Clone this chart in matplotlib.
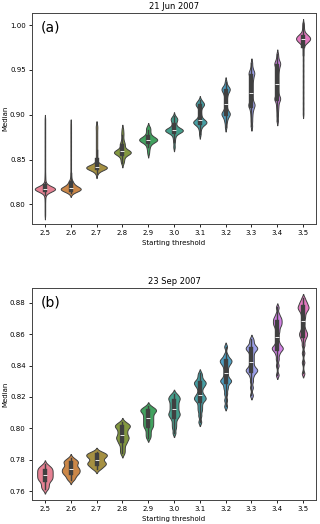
import numpy as np
import pandas as pd
import matplotlib
matplotlib.use("Agg")
import matplotlib.pyplot as plt
import seaborn as sns

thresholds = ["2.5", "2.6", "2.7", "2.8", "2.9", "3.0", "3.1", "3.2", "3.3", "3.4", "3.5"]

# (a) 21 Jun 2007 - median values per starting threshold (value, how many runs gave it)
jun_25 = np.repeat([0.788, 0.793, 0.798, 0.803, 0.807, 0.810, 0.812, 0.813, 0.814, 0.815, 0.816, 0.817, 0.818,
                    0.819, 0.820, 0.821, 0.822, 0.823, 0.825, 0.828, 0.831, 0.835, 0.840, 0.845, 0.850, 0.855,
                    0.860, 0.865, 0.870, 0.875, 0.880, 0.885, 0.890, 0.895],
                   [1, 1, 1, 1, 1, 1, 1, 2, 3, 5, 9, 14, 9,
                    6, 4, 2, 1, 1, 1, 1, 1, 1, 1, 1, 1, 1,
                    1, 1, 1, 1, 1, 1, 1, 1])
jun_26 = np.repeat([0.813, 0.814, 0.815, 0.816, 0.817, 0.818, 0.819, 0.820, 0.821, 0.822, 0.823, 0.824, 0.825,
                    0.826, 0.828, 0.831, 0.835, 0.840, 0.845, 0.850, 0.855, 0.860, 0.865, 0.870, 0.875, 0.880,
                    0.885, 0.890],
                   [2, 3, 5, 8, 12, 8, 5, 3, 2, 2, 2, 2, 2,
                    1, 1, 1, 1, 1, 1, 1, 1, 1, 1, 1, 1, 1,
                    1, 1])
jun_27 = np.repeat([0.834, 0.836, 0.838, 0.839, 0.840, 0.841, 0.842, 0.843, 0.844, 0.846, 0.849, 0.853, 0.857,
                    0.861, 0.865, 0.869, 0.873, 0.877, 0.881, 0.885, 0.888],
                   [1, 1, 2, 3, 5, 7, 5, 3, 2, 1, 1, 1, 1,
                    1, 1, 1, 1, 1, 1, 1, 1])
jun_28 = [0.846, 0.848, 0.850, 0.852, 0.854, 0.855, 0.856, 0.856, 0.857, 0.857, 0.857, 0.858, 0.858, 0.858, 0.858,
          0.859, 0.859, 0.859, 0.860, 0.860, 0.861, 0.862, 0.864, 0.866, 0.867, 0.868, 0.870, 0.873, 0.877, 0.880,
          0.884]
jun_29 = [0.857, 0.861, 0.864, 0.866, 0.868, 0.869, 0.870, 0.870, 0.871, 0.871, 0.871, 0.872, 0.872, 0.872, 0.873,
          0.873, 0.873, 0.874, 0.874, 0.875, 0.876, 0.877, 0.879, 0.881, 0.883, 0.885, 0.886]
jun_30 = [0.864, 0.870, 0.874, 0.877, 0.879, 0.880, 0.881, 0.881, 0.882, 0.882, 0.882, 0.882, 0.883, 0.883, 0.883,
          0.883, 0.884, 0.884, 0.885, 0.886, 0.888, 0.890, 0.892, 0.894, 0.895, 0.895, 0.896, 0.898]
jun_31 = [0.878, 0.883, 0.886, 0.888, 0.889, 0.890, 0.890, 0.891, 0.891, 0.892, 0.892, 0.892, 0.893, 0.893, 0.894,
          0.895, 0.897, 0.899, 0.902, 0.905, 0.908, 0.910, 0.911, 0.911, 0.912, 0.912, 0.913, 0.915, 0.916]
jun_32 = [0.886, 0.891, 0.894, 0.896, 0.898, 0.899, 0.900, 0.901, 0.901, 0.902, 0.903, 0.904, 0.906, 0.909, 0.912,
          0.915, 0.918, 0.921, 0.923, 0.925, 0.926, 0.927, 0.928, 0.929, 0.929, 0.930, 0.931, 0.933, 0.937]
jun_33 = [0.887, 0.893, 0.898, 0.902, 0.905, 0.907, 0.909, 0.910, 0.911, 0.912, 0.913, 0.915, 0.918, 0.921, 0.924,
          0.927, 0.930, 0.933, 0.936, 0.939, 0.941, 0.943, 0.945, 0.946, 0.947, 0.948, 0.950, 0.953, 0.958]
jun_34 = [0.893, 0.899, 0.904, 0.908, 0.911, 0.914, 0.916, 0.917, 0.918, 0.919, 0.920, 0.922, 0.925, 0.928, 0.931,
          0.934, 0.937, 0.940, 0.943, 0.946, 0.949, 0.951, 0.953, 0.955, 0.956, 0.957, 0.958, 0.959, 0.961, 0.964,
          0.968]
jun_35 = np.repeat([0.901, 0.907, 0.913, 0.919, 0.925, 0.931, 0.937, 0.943, 0.949, 0.955, 0.961, 0.967, 0.972,
                    0.977, 0.979, 0.980, 0.981, 0.982, 0.983, 0.984, 0.985, 0.986, 0.987, 0.988, 0.989, 0.990,
                    0.991, 0.993, 0.995, 0.997, 1.000, 1.002],
                   [1, 1, 1, 1, 1, 1, 1, 1, 1, 1, 1, 1, 1,
                    1, 1, 2, 2, 3, 3, 4, 4, 4, 3, 3, 2, 2,
                    1, 1, 1, 1, 1, 1])

# (b) 23 Sep 2007
sep_25 = [0.761, 0.762, 0.763, 0.764, 0.765, 0.766, 0.767, 0.767, 0.768, 0.768, 0.769, 0.769, 0.770, 0.770, 0.771,
          0.771, 0.772, 0.772, 0.773, 0.773, 0.774, 0.774, 0.775, 0.775, 0.776, 0.777]
sep_26 = [0.767, 0.768, 0.769, 0.770, 0.771, 0.771, 0.772, 0.772, 0.773, 0.773, 0.774, 0.774, 0.775, 0.775, 0.776,
          0.777, 0.778, 0.778, 0.779, 0.779, 0.780, 0.781]
sep_27 = [0.774, 0.775, 0.776, 0.777, 0.777, 0.778, 0.778, 0.779, 0.780, 0.781, 0.782, 0.782, 0.783, 0.783, 0.784,
          0.784, 0.785]
sep_28 = [0.784, 0.786, 0.788, 0.790, 0.791, 0.792, 0.793, 0.794, 0.794, 0.795, 0.796, 0.797, 0.798, 0.799, 0.800,
          0.801, 0.801, 0.802, 0.802, 0.803, 0.804]
sep_29 = [0.794, 0.796, 0.798, 0.800, 0.801, 0.802, 0.803, 0.804, 0.805, 0.806, 0.807, 0.808, 0.809, 0.810, 0.811,
          0.811, 0.812, 0.812, 0.813, 0.814]
sep_30 = [0.797, 0.800, 0.802, 0.804, 0.806, 0.807, 0.808, 0.809, 0.809, 0.810, 0.811, 0.812, 0.813, 0.814, 0.815,
          0.816, 0.817, 0.818, 0.819, 0.819, 0.820, 0.821, 0.822]
sep_31 = [0.804, 0.808, 0.811, 0.813, 0.815, 0.817, 0.818, 0.819, 0.819, 0.820, 0.821, 0.822, 0.824, 0.826, 0.827,
          0.828, 0.829, 0.829, 0.830, 0.831, 0.833, 0.835]
sep_32 = [0.814, 0.818, 0.822, 0.825, 0.827, 0.829, 0.830, 0.830, 0.831, 0.832, 0.834, 0.836, 0.838, 0.840, 0.841,
          0.842, 0.843, 0.843, 0.844, 0.845, 0.847, 0.852]
sep_33 = [0.821, 0.826, 0.830, 0.833, 0.835, 0.836, 0.837, 0.837, 0.838, 0.839, 0.841, 0.843, 0.845, 0.847, 0.849,
          0.850, 0.851, 0.851, 0.852, 0.853, 0.855, 0.857]
sep_34 = [0.834, 0.840, 0.844, 0.847, 0.849, 0.850, 0.851, 0.851, 0.852, 0.853, 0.855, 0.858, 0.861, 0.863, 0.865,
          0.866, 0.867, 0.868, 0.869, 0.870, 0.871, 0.873, 0.877]
sep_35 = [0.835, 0.842, 0.848, 0.853, 0.856, 0.858, 0.859, 0.860, 0.861, 0.862, 0.864, 0.867, 0.870, 0.872, 0.874,
          0.875, 0.876, 0.877, 0.877, 0.878, 0.879, 0.880, 0.881, 0.883]

jun = [jun_25, jun_26, jun_27, jun_28, jun_29, jun_30, jun_31, jun_32, jun_33, jun_34, jun_35]
sep = [sep_25, sep_26, sep_27, sep_28, sep_29, sep_30, sep_31, sep_32, sep_33, sep_34, sep_35]


def to_long(groups):
    rows = []
    for t, vals in zip(thresholds, groups):
        for v in vals:
            rows.append((t, float(v)))
    return pd.DataFrame(rows, columns=["Starting threshold", "Median"])


def fixed_bw(h):
    # same absolute kernel width for every violin of a panel
    return lambda kde: h / np.std(kde.dataset, ddof=1)


fig = plt.figure(figsize=(3.2, 5.24), dpi=100)
ax1 = fig.add_axes([0.1, 0.5725, 0.8875, 0.4025])
ax2 = fig.add_axes([0.1, 0.0458, 0.8875, 0.4046])

panels = [(ax1, jun, "21 Jun 2007", "(a)", (0.778, 1.0134), 0.0024),
          (ax2, sep, "23 Sep 2007", "(b)", (0.7543, 0.8894), 0.0013)]

for ax, groups, title, tag, ylim, bw in panels:
    df = to_long(groups)
    sns.violinplot(data=df, x="Starting threshold", y="Median", hue="Starting threshold",
                   order=thresholds, hue_order=thresholds, palette="husl", legend=False,
                   bw_method=fixed_bw(bw), common_norm=True, linewidth=0.7, linecolor="0.25", ax=ax)
    ax.set_ylim(*ylim)
    ax.set_title(title, fontsize=6, pad=3)
    ax.text(0.03, 0.965, tag, transform=ax.transAxes, fontsize=10, va="top", ha="left")
    ax.tick_params(labelsize=5, length=2.5, width=0.6, pad=2)
    ax.set_xlabel("Starting threshold", fontsize=5, labelpad=3)
    ax.set_ylabel("Median", fontsize=5, labelpad=1.5)
    for s in ax.spines.values():
        s.set_linewidth(0.7)
        s.set_color("#444444")

fig.savefig("out.png", dpi=100)
